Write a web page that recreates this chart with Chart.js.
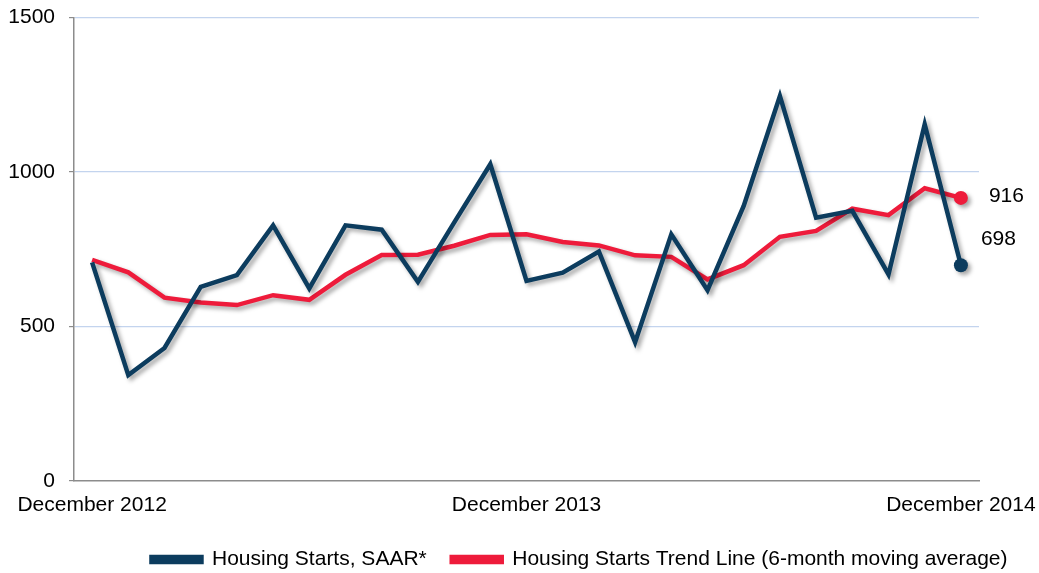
<!DOCTYPE html>
<html>
<head>
  <style>
    body {
        margin: 0;
        background: #fff;
        font-family: "Liberation Sans", Arial, sans-serif;
    }
    #wrap {
        width: 1039px;
        height: 573px;
    }
  </style>
</head>
<body>
  <div id="wrap">
    <canvas id="chart" width="1039" height="573"></canvas>
  </div>

  <script src="https://cdn.jsdelivr.net/npm/chart.js"></script>
  <script>
const months = [
    'December 2012', 'January 2013', 'February 2013', 'March 2013', 'April 2013',
    'May 2013', 'June 2013', 'July 2013', 'August 2013', 'September 2013',
    'October 2013', 'November 2013', 'December 2013', 'January 2014', 'February 2014',
    'March 2014', 'April 2014', 'May 2014', 'June 2014', 'July 2014',
    'August 2014', 'September 2014', 'October 2014', 'November 2014', 'December 2014'
];
// Housing starts, SAAR*
const starts = [707, 342, 430, 628, 666, 827, 623, 827, 813, 644, 836, 1025, 647,
                674, 742, 449, 798, 617, 890, 1246, 852, 874, 668, 1154, 698];
// 6-month moving average
const trend = [715, 675, 593, 577, 569, 601, 586, 667, 731, 732, 761, 796, 798,
               773, 762, 730, 725, 652, 698, 790, 809, 881, 860, 947, 916];
const yTicks = [0, 500, 1000, 1500];

const navy = '#0c3c5e';
const red = '#ee1b3b';
const last = months.length - 1;
const FONT = '"Liberation Sans", Arial, sans-serif';

// soft drop shadow under the lines, like the original
const lineShadow = {
    id: 'lineShadow',
    beforeDatasetsDraw(chart) {
        const ctx = chart.ctx;
        ctx.save();
        ctx.shadowColor = 'rgba(0, 0, 0, 0.35)';
        ctx.shadowBlur = 4;
        ctx.shadowOffsetX = 3;
        ctx.shadowOffsetY = 3;
    },
    afterDatasetsDraw(chart) {
        chart.ctx.restore();
    }
};

// value labels next to the last points
const endLabels = {
    id: 'endLabels',
    afterDatasetsDraw(chart) {
        const ctx = chart.ctx;
        const offsets = [[20, -26], [28, -2]];
        ctx.save();
        ctx.font = '21px ' + FONT;
        ctx.fillStyle = '#000';
        ctx.textBaseline = 'middle';
        ctx.textAlign = 'left';
        chart.data.datasets.forEach((ds, i) => {
            const pt = chart.getDatasetMeta(i).data[last];
            ctx.fillText(String(ds.data[last]), pt.x + offsets[i][0], pt.y + offsets[i][1]);
        });
        ctx.restore();
    }
};

// legend sits right of centre in the original
const legendShift = {
    id: 'legendShift',
    afterLayout(chart) {
        const lg = chart.legend;
        lg.left += 60;
        lg.right += 60;
        lg.top = 524;
        lg.bottom = 573;
    }
};

const ctx = document.getElementById('chart').getContext('2d');
const chart = new Chart(ctx, {
    type: 'line',
    data: {
        labels: months,
        datasets: [
            {
                label: 'Housing Starts, SAAR*',
                data: starts,
                borderColor: navy,
                backgroundColor: navy,
                borderWidth: 4.5,
                tension: 0,
                fill: false,
                pointRadius: c => c.dataIndex === last ? 7 : 0,
                pointBackgroundColor: navy,
                pointBorderWidth: 0
            },
            {
                label: 'Housing Starts Trend Line (6-month moving average)',
                data: trend,
                borderColor: red,
                backgroundColor: red,
                borderWidth: 4.5,
                tension: 0,
                fill: false,
                pointRadius: c => c.dataIndex === last ? 7 : 0,
                pointBackgroundColor: red,
                pointBorderWidth: 0
            }
        ]
    },
    options: {
        responsive: false,
        animation: false,
        events: [],
        layout: {
            padding: { left: 0, right: 0, top: 0, bottom: 3 }
        },
        scales: {
            x: {
                type: 'category',
                offset: true,
                afterFit(scale) {
                    scale.paddingRight = 60;
                },
                grid: { display: false, drawTicks: false },
                border: { color: '#8c8c8c', width: 1.5 },
                ticks: {
                    autoSkip: false,
                    maxRotation: 0,
                    padding: 12,
                    color: '#000',
                    font: { family: FONT, size: 21 },
                    callback: function (value, index) {
                        return index % 12 === 0 ? months[index] : '';
                    }
                }
            },
            y: {
                min: yTicks[0],
                max: yTicks[yTicks.length - 1],
                afterFit(scale) {
                    scale.width = 74;
                    scale.paddingTop = 17.5;
                },
                afterBuildTicks(scale) {
                    scale.ticks = yTicks.map(v => ({ value: v }));
                },
                grid: {
                    color: c => c.tick && c.tick.value === 0 ? 'rgba(0,0,0,0)' : '#c3d4ee',
                    tickColor: '#8c8c8c',
                    tickLength: 5,
                    lineWidth: 1.2
                },
                border: { color: '#8c8c8c', width: 1.5 },
                ticks: {
                    padding: 14,
                    color: '#000',
                    font: { family: FONT, size: 21 },
                    callback: function (value) {
                        return String(value);
                    }
                }
            }
        },
        plugins: {
            legend: {
                position: 'bottom',
                maxHeight: 40,
                labels: {
                    color: '#000',
                    font: { family: FONT, size: 21 },
                    boxWidth: 50,
                    boxHeight: 5,
                    padding: 25
                }
            },
            tooltip: { enabled: false }
        }
    },
    plugins: [lineShadow, endLabels, legendShift]
});
  </script>
</body>
</html>
